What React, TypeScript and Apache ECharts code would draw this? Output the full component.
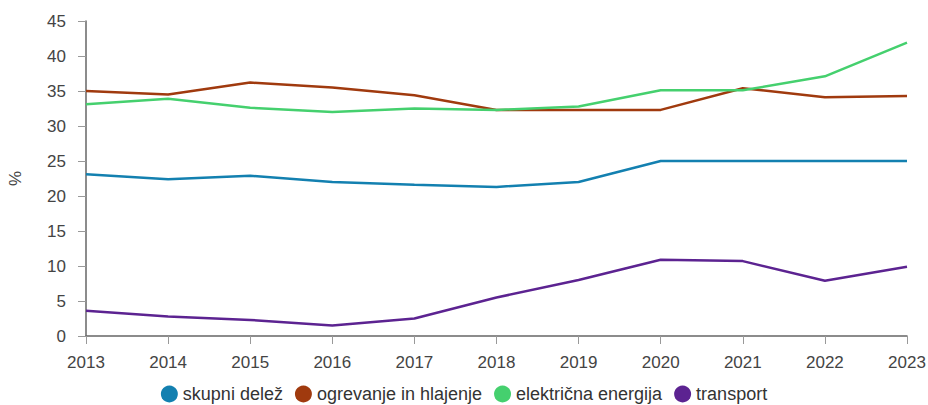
import React, { useEffect, useRef } from "react";
import * as echarts from "echarts";

const years = ["2013", "2014", "2015", "2016", "2017", "2018", "2019", "2020", "2021", "2022", "2023"];
const skupni = [23.1, 22.4, 22.9, 22.0, 21.6, 21.3, 22.0, 25.0, 25.0, 25.0, 25.0];
const ogrevanje = [35.0, 34.5, 36.2, 35.5, 34.4, 32.3, 32.3, 32.3, 35.4, 34.1, 34.3];
const elektricna = [33.1, 33.9, 32.6, 32.0, 32.5, 32.3, 32.8, 35.1, 35.1, 37.1, 41.9];
const transport = [3.6, 2.8, 2.3, 1.5, 2.5, 5.5, 8.0, 10.9, 10.7, 7.9, 9.9];

const seriesNames = ["skupni delež", "ogrevanje in hlajenje", "električna energija", "transport"];
const seriesColors = ["#1380b0", "#a03a0e", "#45d06e", "#5c2391"];

export default function App() {
  const ref = useRef<HTMLDivElement>(null);
  useEffect(() => {
    if (!ref.current) return;
    const chart = echarts.init(ref.current, undefined, { renderer: "svg" });
    const data = [skupni, ogrevanje, elektricna, transport];
    chart.setOption({
      animation: false,
      textStyle: { fontFamily: "Liberation Sans, Arial, sans-serif" },
      grid: { left: 86, right: 21, top: 21, bottom: 69, outerBoundsMode: "none", containLabel: false },
      legend: {
        bottom: 2,
        left: "center",
        padding: 0,
        icon: "circle",
        itemWidth: 17,
        itemHeight: 17,
        itemGap: 12,
        textStyle: { fontSize: 18, color: "#333" },
        data: seriesNames,
      },
      xAxis: {
        type: "category",
        data: years,
        boundaryGap: false,
        axisLine: { lineStyle: { color: "#666", width: 1.5 } },
        axisTick: { show: true, length: 8, lineStyle: { color: "#999" } },
        axisLabel: { fontSize: 17, color: "#444", margin: 18 },
      },
      yAxis: {
        type: "value",
        min: 0,
        max: 45,
        interval: 5,
        name: "%",
        nameLocation: "middle",
        nameRotate: 90,
        nameGap: 62,
        nameTextStyle: { fontSize: 17, color: "#444" },
        axisLine: { show: true, lineStyle: { color: "#666", width: 1.5 } },
        axisTick: { show: true, length: 8, lineStyle: { color: "#999" } },
        axisLabel: { fontSize: 17, color: "#444", margin: 20 },
        splitLine: { show: false },
      },
      series: seriesNames.map((n, i) => ({
        name: n,
        type: "line",
        data: data[i],
        symbol: "none",
        color: seriesColors[i],
        lineStyle: { width: 2.5, color: seriesColors[i] },
      })),
    });
    return () => chart.dispose();
  }, []);
  return <div ref={ref} style={{ width: 928, height: 405, position: "absolute", left: 0, top: 0 }} />;
}
